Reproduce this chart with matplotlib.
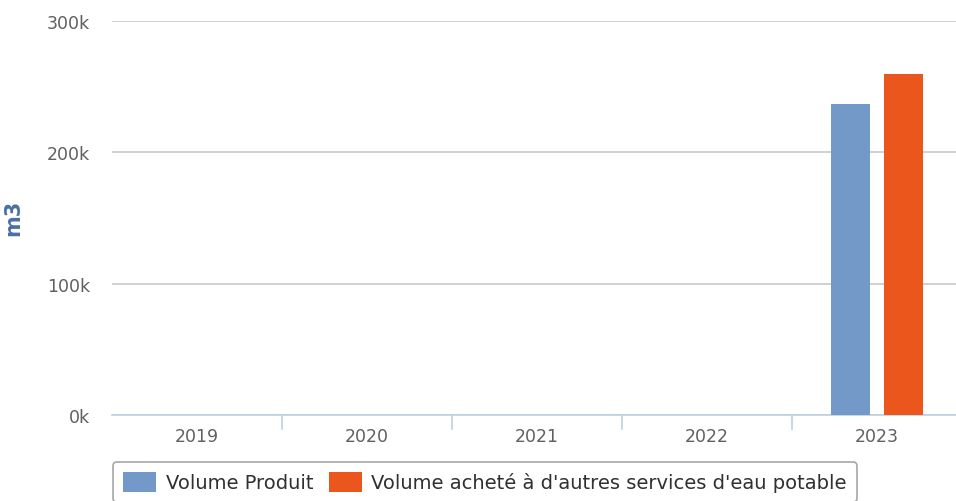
import matplotlib.pyplot as plt
import numpy as np

years = ["2019", "2020", "2021", "2022", "2023"]
volume_produit = [0, 0, 0, 0, 237000]
volume_achete = [0, 0, 0, 0, 260000]
ylabels = ["0k", "100k", "200k", "300k"]

blue = "#7399c9"
orange = "#eb561c"

fig = plt.figure(figsize=(9.56, 5.02), dpi=100)
ax = fig.add_axes([112 / 956, 86 / 502, 1 - 112 / 956, 394 / 502])

x = np.arange(len(years))
w = 0.23
ax.bar(x - 0.155, volume_produit, w, color=blue, label="Volume Produit", zorder=3)
ax.bar(x + 0.155, volume_achete, w, color=orange,
       label="Volume acheté à d'autres services d'eau potable", zorder=3)

ax.set_xlim(-0.5, 4.465)
ax.set_ylim(0, 300000)
ax.set_yticks([0, 100000, 200000, 300000])
ax.set_yticklabels(ylabels)
ax.set_xticks(x)
ax.set_xticklabels(years)
ax.tick_params(axis="both", length=0, colors="#606060", labelsize=12.5)
ax.tick_params(axis="y", pad=16)
ax.tick_params(axis="x", pad=9)
ax.grid(axis="y", color="#c8c8c8", linewidth=1.2, zorder=0)
for s in ["top", "right", "left"]:
    ax.spines[s].set_visible(False)
ax.spines["bottom"].set_color("#c0d0e0")
ax.spines["bottom"].set_linewidth(1.2)

# category separators below the axis
for b in np.arange(0.5, 4.0, 1.0):
    ax.plot([b, b], [0, -0.035], transform=ax.get_xaxis_transform(),
            color="#c0d0e0", lw=1.2, clip_on=False)

ax.set_ylabel("m3", color="#4a6fa5", fontsize=15, fontweight="bold")
ax.yaxis.set_label_coords(-(112 - 23) / (956 - 112), (416 - 218) / 394)

leg = fig.legend(loc="upper left", bbox_to_anchor=(113 / 956, 1 - 463 / 502),
                 ncol=2, frameon=True, fancybox=True,
                 prop={"family": "DejaVu Sans", "size": 14},
                 handlelength=1.7, handleheight=1.2, columnspacing=0.8,
                 handletextpad=0.5, borderpad=0.5, borderaxespad=0)
leg.get_frame().set_edgecolor("#909090")
leg.get_frame().set_linewidth(1.2)
for t in leg.get_texts():
    t.set_color("#303030")

fig.savefig("out.png", dpi=100)
